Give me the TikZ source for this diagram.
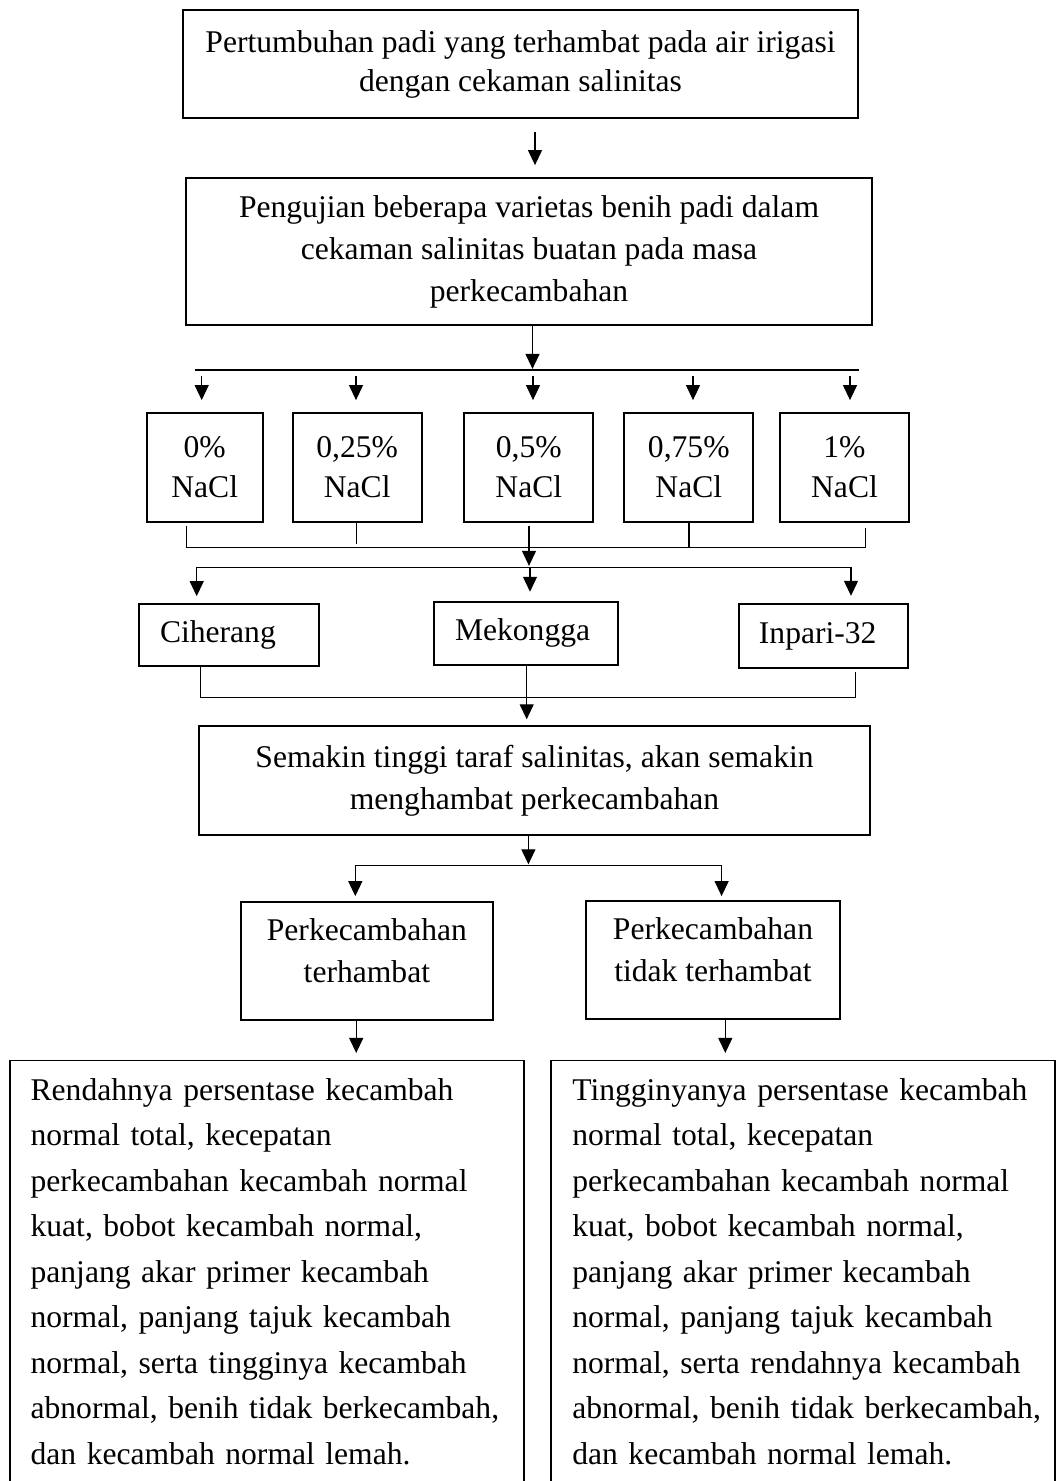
\documentclass[tikz,border=0pt]{standalone}
\usepackage{fontspec}
\setmainfont{Liberation Serif}
\usetikzlibrary{arrows.meta,calc}
\tikzset{
  box/.style={draw, line width=1.8pt, inner sep=0pt, align=center},
  lbox/.style={draw, line width=1.8pt, inner ysep=0pt, inner xsep=21pt, align=left},
  boxline/.style={line width=1.8pt},
  conn/.style={line width=1.2pt},
  arr/.style={line width=1.2pt, -{Triangle[length=15pt,width=14pt]}},
  fs/.style={font=\fontsize{31.6}{#1}\selectfont},
}
\begin{document}
\begin{tikzpicture}[x=1pt,y=-1pt]
\useasboundingbox (0,0) rectangle (1057,1481);
\fill[white] (0,0) rectangle (1057,1481);

% main boxes
\node[box, fs=39, minimum width=675pt, minimum height=108pt] (top) at (520.5,64)
  {Pertumbuhan padi yang terhambat pada air irigasi\\dengan cekaman salinitas};
\node[box, fs=42, minimum width=686pt, minimum height=147pt] (box2) at (529,251.5)
  {Pengujian beberapa varietas benih padi dalam\\cekaman salinitas buatan pada masa\\perkecambahan};

% NaCl boxes
\node[box, fs=40, minimum width=116pt, minimum height=109.3pt] (n0)  at (204.7,467.3) {0\%\\NaCl};
\node[box, fs=40, minimum width=129pt, minimum height=109.3pt] (n25) at (357.2,467.3) {0,25\%\\NaCl};
\node[box, fs=40, minimum width=129pt, minimum height=109.3pt] (n5)  at (528.8,467.3) {0,5\%\\NaCl};
\node[box, fs=40, minimum width=129pt, minimum height=109.3pt] (n75) at (688.8,467.3) {0,75\%\\NaCl};
\node[box, fs=40, minimum width=129pt, minimum height=109.3pt] (n1)  at (844.5,467.3) {1\%\\NaCl};

% varieties
\node[lbox, fs=40, text width=138pt, minimum height=61.7pt] (cih) at (229,635.2) {Ciherang};
\node[lbox, fs=40, text width=142pt, minimum height=63.3pt] (mek) at (526,633.3) {Mekongga};
\node[lbox, fs=40, inner xsep=20pt, text width=128.7pt, minimum height=63.4pt] (inp) at (823.3,636) {Inpari-32};

% conclusion
\node[box, fs=42, minimum width=670.4pt, minimum height=109.3pt] (sem) at (534.5,780.3)
  {Semakin tinggi taraf salinitas, akan semakin\\menghambat perkecambahan};

\node[box, fs=42, minimum width=252.2pt, minimum height=117.7pt] (pl) at (366.9,961.2)
  {Perkecambahan\\terhambat\rule[-21pt]{0pt}{21pt}};
\node[box, fs=42, minimum width=254.6pt, minimum height=118.3pt] (pr) at (713,959.9)
  {Perkecambahan\\tidak terhambat\rule[-21pt]{0pt}{21pt}};

% bottom open boxes
\coordinate (blnw) at (9.6,1060.5);
\coordinate (blne) at (523.7,1060.5);
\coordinate (brnw) at (551.3,1060.5);
\coordinate (brne) at (1055,1060.5);
\node[anchor=north west, inner xsep=21pt, inner ysep=18pt, outer sep=0pt, text width=490pt,
      align=left, fs=45.5] (bl) at (blnw)
  {Rendahnya persentase kecambah\\normal total, kecepatan\\perkecambahan kecambah normal\\kuat, bobot kecambah normal,\\panjang akar primer kecambah\\normal, panjang tajuk kecambah\\normal, serta tingginya kecambah\\abnormal, benih tidak berkecambah,\\dan kecambah normal lemah.};
\node[anchor=north west, inner xsep=21pt, inner ysep=18pt, outer sep=0pt, text width=490pt,
      align=left, fs=45.5] (br) at (brnw)
  {Tingginyanya persentase kecambah\\normal total, kecepatan\\perkecambahan kecambah normal\\kuat, bobot kecambah normal,\\panjang akar primer kecambah\\normal, panjang tajuk kecambah\\normal, serta rendahnya kecambah\\abnormal, benih tidak berkecambah,\\dan kecambah normal lemah.};
\draw[boxline] ($(blnw)+(0,440)$) -- (blnw) -- (blne) -- ($(blne)+(0,440)$);
\draw[boxline] ($(brnw)+(0,440)$) -- (brnw) -- (brne) -- ($(brne)+(0,440)$);

% connectors: top to box2
\draw[arr] ($(top.south)+(14.5,13)$) -- ($(box2.north)+(6,-12)$);
% box2 to distribution line
\draw[arr] ($(box2.south)+(3.5,0)$) -- ++(0,43);
\draw[conn] ($(box2.south)+(-334.3,44)$) -- ($(box2.south)+(329.5,44)$);
% short arrows to NaCl boxes
\foreach \n/\dx in {n0/-3, n25/-1.2, n5/4.2, n75/4.2, n1/5.5}
  \draw[arr] ($(\n.north)+(\dx,-35.65)$) -- ($(\n.north)+(\dx,-11.65)$);

% collection below NaCl boxes
\draw[conn] ($(n0.south)+(-18,3)$) |- ($(n1.south)+(21.2,24.75)$) -- ($(n1.south)+(21.2,4.75)$);
\draw[conn] ($(n25.south)+(-0.5,0)$) -- ++(0,21);
\draw[conn] ($(n75.south)+(0.2,0)$) -- ++(0,24.75);
\draw[arr] ($(n5.south)+(0.2,3)$) -- ++(0,40);

% distribution to varieties
\draw[arr] ($(mek.north)+(4,-33.65)$) -- ($(mek.north)+(4,-9)$);
\draw[arr] ($(mek.north)+(4,-33.65)$) -| ($(cih.north)+(-32.3,-7.3)$);
\draw[arr] ($(mek.north)+(4,-33.65)$) -| ($(inp.north)+(27.7,-7.6)$);

% collection below varieties
\draw[conn] ($(cih.south)+(-28.3,0)$) |- ($(inp.south)+(32.4,28.8)$) -- ($(inp.south)+(32.4,3)$);
\draw[arr] ($(mek.south)+(0.7,0)$) -- ($(sem.north)+(-7.8,-5.5)$);

% conclusion split
\draw[arr] ($(sem.south)+(-6.1,0)$) -- ++(0,28.5);
\coordinate (h5) at ($(sem.south)+(-6.1,29.3)$);
\draw[arr] (h5) -| ($(pl.north)+(-11.6,-5.3)$);
\draw[arr] (h5) -| ($(pr.north)+(8.6,-3.75)$);

% to bottom boxes
\draw[arr] ($(pl.south)+(-10.7,0)$) -- ($(pl.south)+(-10.7,32)$);
\draw[arr] ($(pr.south)+(12.3,0)$) -- ($(pr.south)+(12.3,33)$);
\end{tikzpicture}
\end{document}
